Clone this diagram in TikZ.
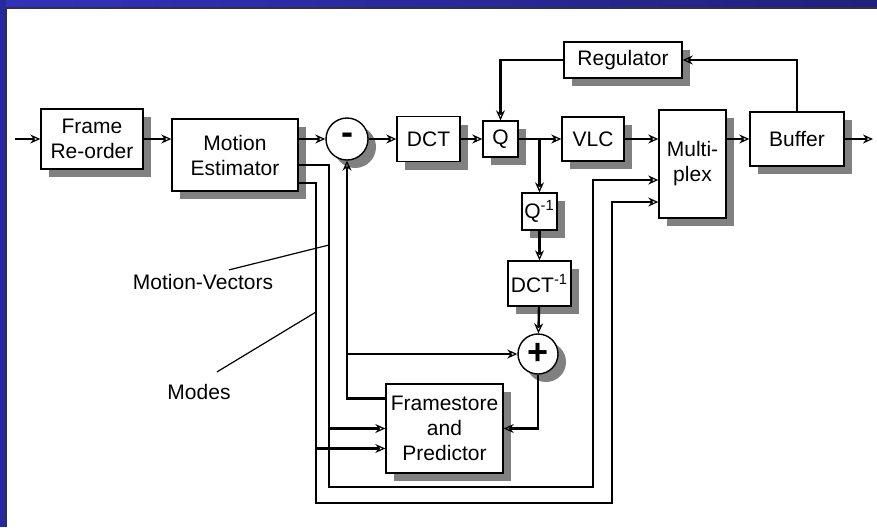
\documentclass[tikz,border=0pt]{standalone}
\usepackage{fontspec}
\setmainfont{Liberation Sans}
\usetikzlibrary{arrows.meta,shadows}
\definecolor{frameblue}{RGB}{40,40,160}
\definecolor{frameblueL}{RGB}{50,50,185}
\definecolor{frameblueR}{RGB}{32,32,125}
\definecolor{shadowgray}{RGB}{128,128,128}

\begin{document}
\begin{tikzpicture}[
    x=0.5pt, y=-0.5pt,
    font=\fontsize{10.5}{12.5}\selectfont,
    box/.style={draw, rectangle, line width=0.7pt, fill=white, align=center, inner sep=1pt,
        general shadow={fill=shadowgray, shadow xshift=4pt, shadow yshift=-4pt}},
    sumnode/.style={draw, circle, line width=0.7pt, fill=white, minimum size=21pt, inner sep=0pt,
        font=\fontsize{18}{18}\selectfont\bfseries,
        general shadow={fill=shadowgray, shadow xshift=4pt, shadow yshift=-4pt}},
    arrow/.style={-{Stealth[open, line width=0.6pt, length=5pt, width=4.5pt]}, line width=1.2pt},
    leader/.style={line width=0.6pt}
]
    \useasboundingbox (0,0) rectangle (877,527);
    % frame of the slide
    \fill[left color=frameblueL, right color=frameblueR] (0,0) rectangle (877,8);
    \fill[frameblue] (0,0) rectangle (6,527);
    \draw[line width=0.6pt, black!80] (6,527) -- (6,8) -- (877,8);

    % blocks
    \node[box, minimum width=51pt, minimum height=30pt] (frame) at (92,139) {Frame\\Re-order};
    \node[box, minimum width=63pt, minimum height=36pt] (motion) at (235,155) {Motion\\Estimator};
    \node[sumnode] (minus) at (347,139) {-};
    \node[box, minimum width=31.5pt, minimum height=22.5pt] (dct) at (428.5,139) {DCT};
    \node[box, minimum width=17.5pt, minimum height=18pt] (q) at (500.5,139) {Q};
    \node[box, minimum width=31pt, minimum height=22pt] (vlc) at (593,139) {VLC};
    \node[box, minimum width=33.5pt, minimum height=54pt] (mux) at (692.5,164) {Multi-\\plex};
    \node[box, minimum width=47pt, minimum height=27pt] (buffer) at (797,139) {Buffer};
    \node[box, minimum width=59pt, minimum height=18pt] (reg) at (623,60) {Regulator};
    \node[box, minimum width=17.5pt, minimum height=18.5pt] (qinv) at (539.5,211.5) {Q\textsuperscript{-1}};
    \node[box, minimum width=31.5pt, minimum height=22.5pt] (dctinv) at (539.5,283.5) {DCT\textsuperscript{-1}};
    \node[sumnode, minimum size=20pt] (plus) at (538,354) {+};
    \node[box, minimum width=58.5pt, minimum height=44.5pt] (fs) at (444.5,428.5) {Framestore\\and\\Predictor};

    \node[inner sep=2pt] (mvlabel) at (203,282) {Motion-Vectors};
    \node[inner sep=2pt] (modes) at (199,392) {Modes};

    \coordinate (in) at (15,139);
    \coordinate (out) at (873,139);
    \coordinate (mvb) at (329,487);
    \coordinate (mvr) at (593,487);
    \coordinate (mdb) at (316,503);
    \coordinate (mdr) at (612,503);
    \coordinate (fsin) at ([yshift=-10pt]fs.west);

    % forward path
    \draw[arrow] (in) -- (frame.west);
    \draw[arrow] (frame.east) -- (frame.east -| motion.west);
    \draw[arrow] (motion.east |- minus) -- (minus);
    \draw[arrow] (minus) -- (dct);
    \draw[arrow] (dct) -- (q);
    \draw[arrow] (q) -- (vlc);
    \draw[arrow] (vlc) -- (vlc -| mux.west);
    \draw[arrow] (buffer -| mux.east) -- (buffer);
    \draw[arrow] (buffer) -- (out);

    % rate control
    \draw[arrow] (buffer.north) |- (reg.east);
    \draw[arrow] (reg.west) -| (q.north);

    % local decoder
    \draw[arrow] (q -| qinv) -- (qinv);
    \draw[arrow] (qinv) -- (dctinv);
    \draw[arrow] (dctinv) -- (plus);
    \draw[arrow] (plus.south) |- (fs.east);
    \draw[arrow] ([yshift=-7.5pt]fs.north west) -| (minus.south);
    \draw[arrow] (minus.south |- plus) -- (plus);

    % side information
    \draw[arrow] ([yshift=-5pt]motion.east) -| (mvb) -- (mvr) |- ([yshift=-8pt]mux.west);
    \draw[arrow] ([yshift=-14pt]motion.east) -| (mdb) -- (mdr) |- ([yshift=-19pt]mux.west);
    \draw[arrow] (mvb |- fs.west) -- (fs.west);
    \draw[arrow] (mdb |- fsin) -- (fsin);

    \draw[leader] ([xshift=13pt]mvlabel.north) -- (mvb |- 0,245);
    \draw[leader] ([xshift=9pt,yshift=4pt]modes.north) -- (mdb |- 0,312);
\end{tikzpicture}
\end{document}
